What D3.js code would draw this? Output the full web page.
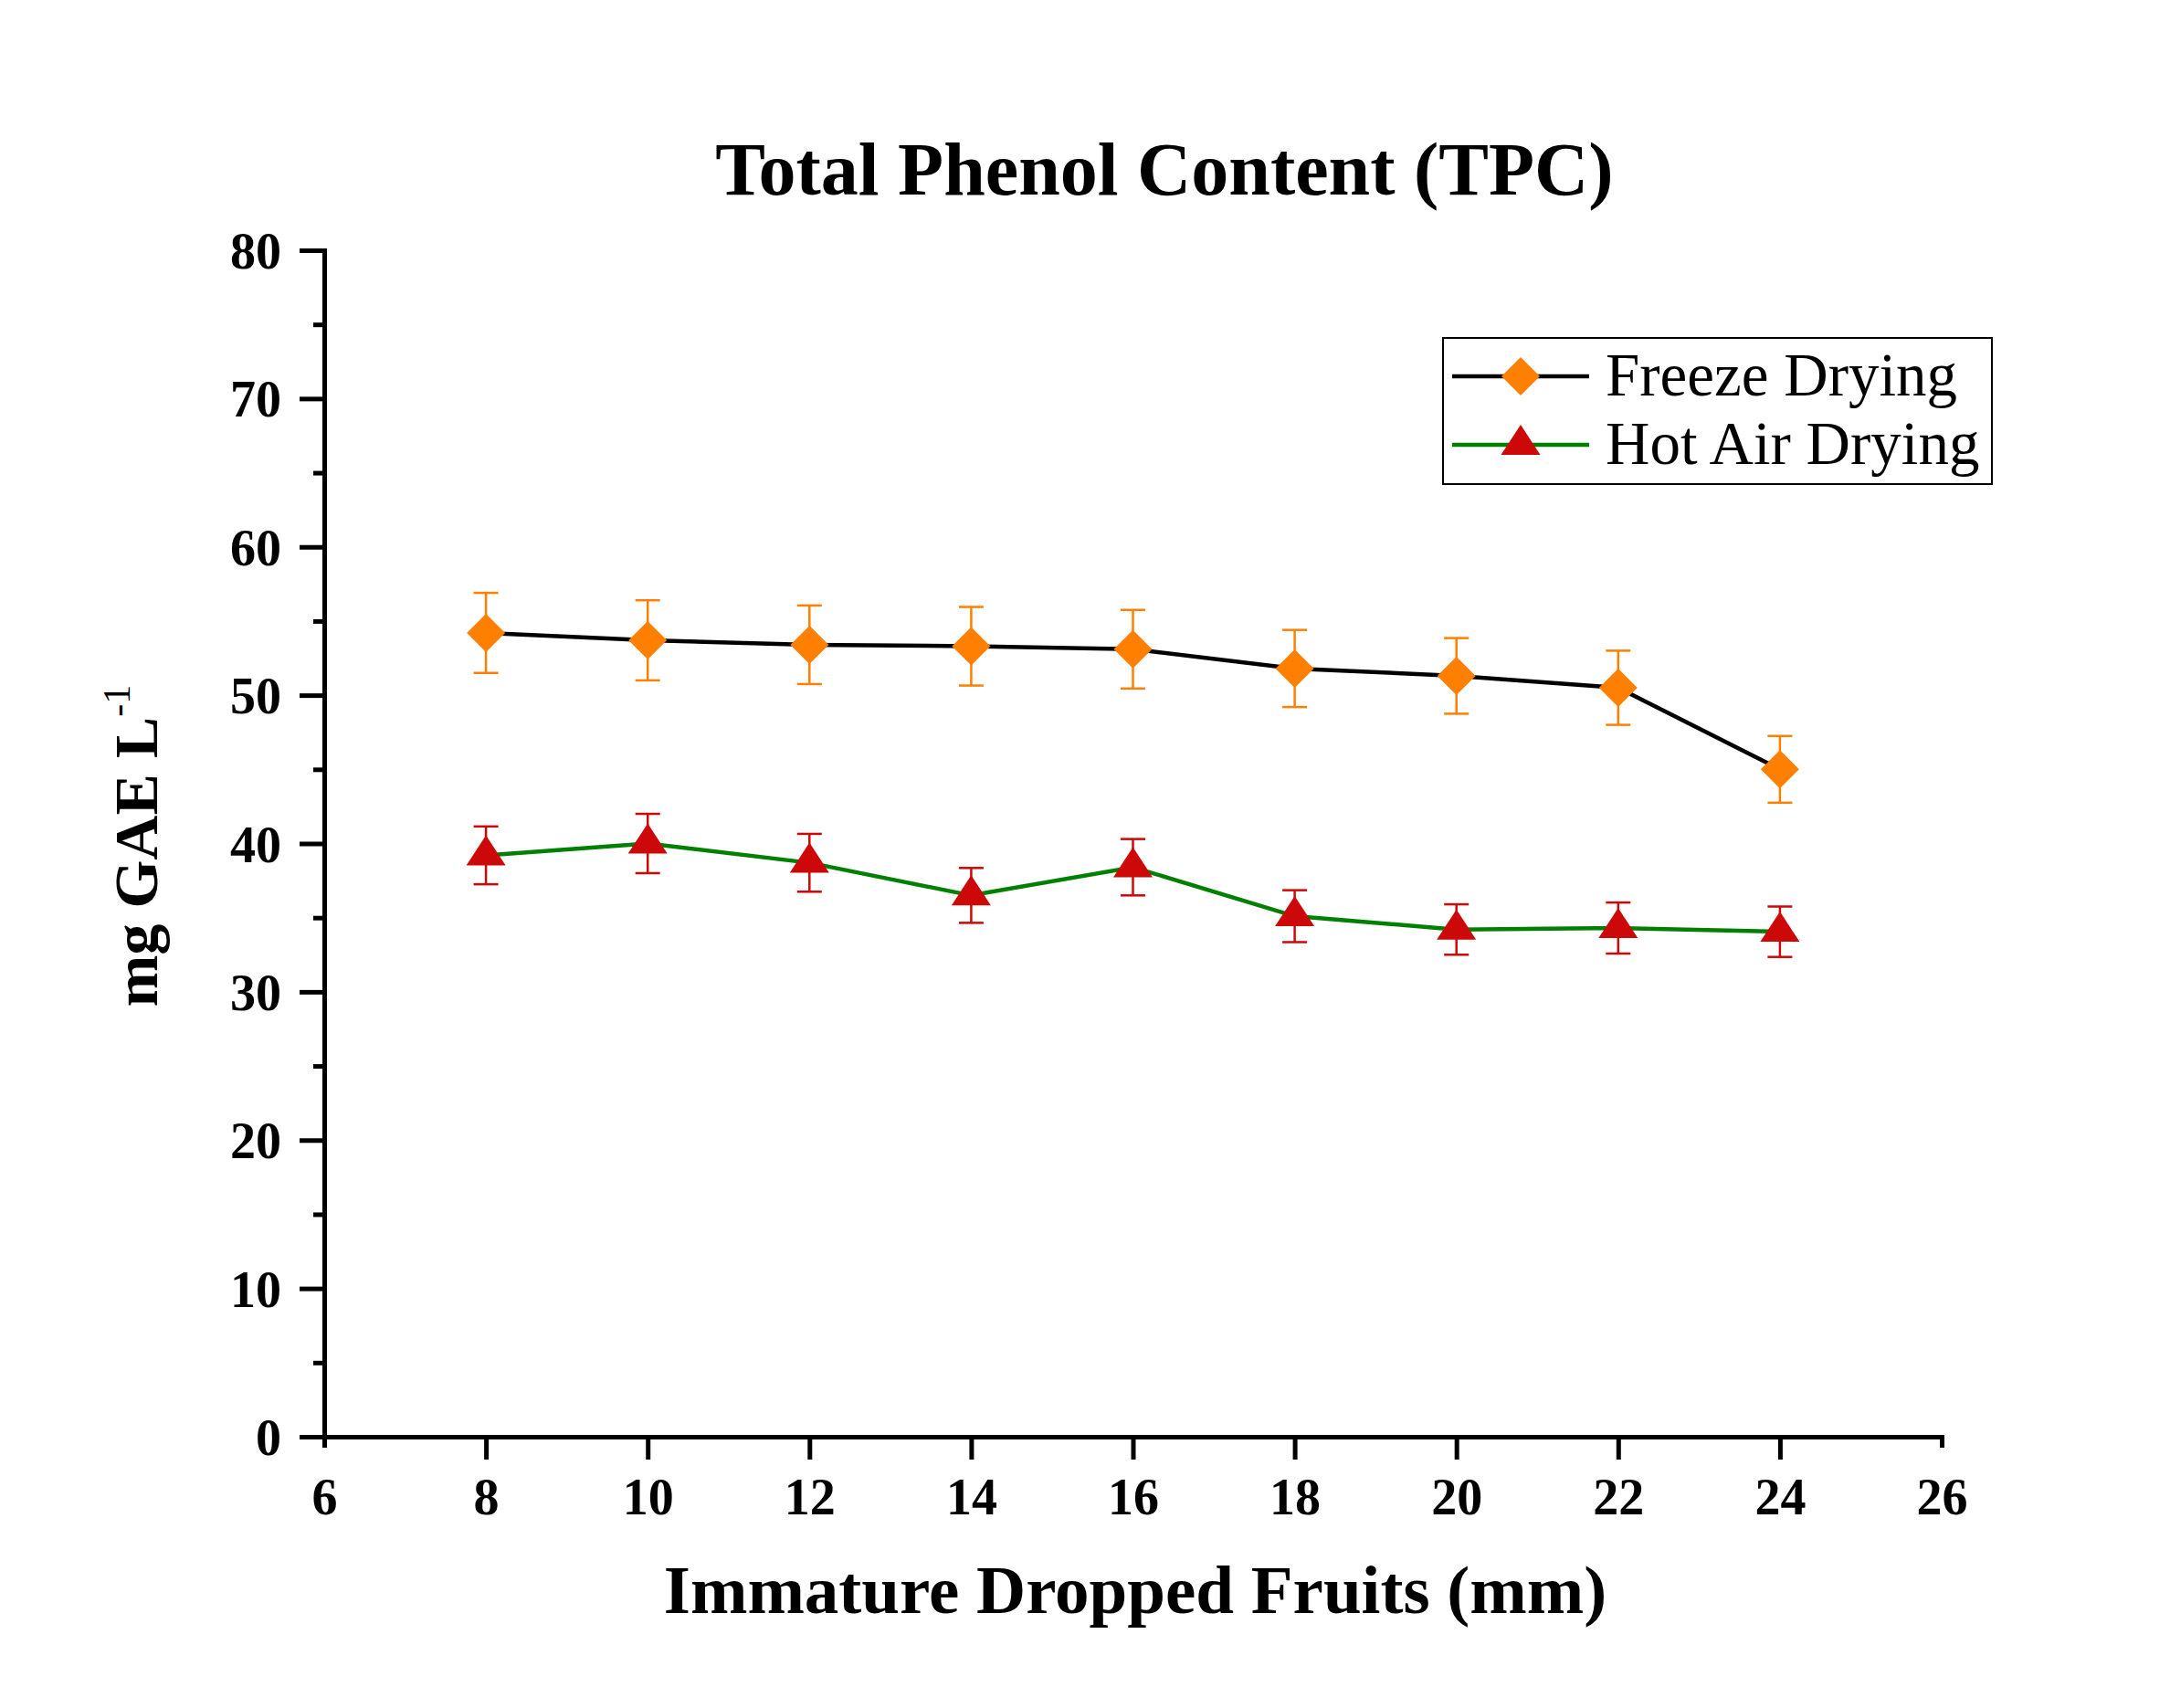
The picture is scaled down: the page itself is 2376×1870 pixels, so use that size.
<!DOCTYPE html>
<html>
<head>
<meta charset="utf-8">
<script src="https://cdn.jsdelivr.net/npm/d3@7"></script>
<style>
  body { margin: 0; background: #fff; }
  svg { display: block; font-family: "Liberation Serif", "Times New Roman", serif; }
</style>
</head>
<body>
<svg id="chart" width="2376" height="1870"></svg>
<script>
// data
const sizes = [8, 10, 12, 14, 16, 18, 20, 22, 24];
const freezeDrying = [54.2, 53.7, 53.4, 53.3, 53.1, 51.8, 51.3, 50.5, 45.0];
const freezeErr = [2.7, 2.7, 2.65, 2.65, 2.65, 2.6, 2.55, 2.5, 2.25];
const hotAirDrying = [39.2, 40.0, 38.7, 36.5, 38.4, 35.1, 34.2, 34.3, 34.05];
const hotAirErr = [1.95, 2.0, 1.95, 1.85, 1.9, 1.75, 1.7, 1.72, 1.7];
const xTicks = [6, 8, 10, 12, 14, 16, 18, 20, 22, 24, 26];
const yTicks = [0, 10, 20, 30, 40, 50, 60, 70, 80];
const yMinor = [5, 15, 25, 35, 45, 55, 65, 75];

const svg = d3.select("#chart");

const x = d3.scaleLinear().domain([6, 26]).range([355, 2126]);
const y = d3.scaleLinear().domain([0, 80]).range([1573, 274]);

const series = [
  { name: "Freeze Drying", values: freezeDrying, err: freezeErr, line: "#000000", fill: "#FF8000", shape: "diamond" },
  { name: "Hot Air Drying", values: hotAirDrying, err: hotAirErr, line: "#008000", fill: "#CC0808", shape: "triangle" }
];

function markerPath(shape) {
  if (shape === "diamond") return "M0,-21L21,0L0,21L-21,0Z";
  return "M0,-22L21.5,11L-21.5,11Z";
}

// title
svg.append("text")
  .attr("x", 1275).attr("y", 213)
  .attr("text-anchor", "middle")
  .attr("font-size", 82).attr("font-weight", "bold")
  .text("Total Phenol Content (TPC)");

// y axis minor ticks
svg.append("g")
  .attr("transform", "translate(355,0)")
  .call(d3.axisLeft(y).tickValues(yMinor).tickSize(12).tickSizeOuter(0).tickFormat(""))
  .call(g => g.select(".domain").remove())
  .call(g => g.selectAll("line").attr("stroke", "#000").attr("stroke-width", 5));

// y axis
svg.append("g")
  .attr("transform", "translate(355,0)")
  .call(d3.axisLeft(y).tickValues(yTicks).tickSize(27).tickSizeOuter(0))
  .call(g => g.select(".domain").attr("stroke", "#000").attr("stroke-width", 5).attr("stroke-linecap", "square"))
  .call(g => g.selectAll("line").attr("stroke", "#000").attr("stroke-width", 5))
  .call(g => g.selectAll("text")
    .attr("x", -47).attr("dy", "0.35em")
    .attr("font-size", 56).attr("font-weight", "bold")
    .attr("font-family", "Liberation Serif, serif").attr("fill", "#000"));

// x axis
svg.append("g")
  .attr("transform", "translate(0,1573)")
  .call(d3.axisBottom(x).tickValues(xTicks).tickSize(25).tickSizeOuter(0))
  .call(g => g.select(".domain").attr("stroke", "#000").attr("stroke-width", 5).attr("stroke-linecap", "square"))
  .call(g => g.selectAll(".tick line").attr("stroke", "#000").attr("stroke-width", 5)
    .attr("y2", d => (d === 6 || d === 26) ? 12 : 25))
  .call(g => g.selectAll("text")
    .attr("y", 85).attr("dy", 0)
    .attr("font-size", 56).attr("font-weight", "bold")
    .attr("font-family", "Liberation Serif, serif").attr("fill", "#000"));

// axis titles
svg.append("text")
  .attr("x", 1243).attr("y", 1766)
  .attr("text-anchor", "middle")
  .attr("font-size", 75).attr("font-weight", "bold")
  .text("Immature Dropped Fruits (mm)");

const yl = svg.append("text")
  .attr("transform", "translate(172,926) rotate(-90)")
  .attr("text-anchor", "middle")
  .attr("font-size", 68).attr("font-weight", "bold");
yl.append("tspan").text("mg GAE L");
yl.append("tspan").attr("font-size", 42).attr("font-weight", "normal").attr("dy", -30).text("-1");

// error bars
series.forEach(s => {
  const g = svg.append("g").attr("stroke", s.fill).attr("stroke-width", 2.5);
  sizes.forEach((d, i) => {
    const lo = y(s.values[i] - s.err[i]), hi = y(s.values[i] + s.err[i]), cx = x(d);
    g.append("line").attr("x1", cx).attr("x2", cx).attr("y1", lo).attr("y2", hi);
    g.append("line").attr("x1", cx - 13.5).attr("x2", cx + 13.5).attr("y1", lo).attr("y2", lo);
    g.append("line").attr("x1", cx - 13.5).attr("x2", cx + 13.5).attr("y1", hi).attr("y2", hi);
  });
});

// lines
const line = d3.line().x(d => x(d[0])).y(d => y(d[1]));
series.forEach(s => {
  svg.append("path")
    .datum(sizes.map((d, i) => [d, s.values[i]]))
    .attr("d", line)
    .attr("fill", "none")
    .attr("stroke", s.line)
    .attr("stroke-width", 4.5);
});

// markers
series.forEach(s => {
  svg.append("g").selectAll("path")
    .data(sizes.map((d, i) => [d, s.values[i]]))
    .join("path")
    .attr("transform", d => `translate(${x(d[0])},${y(d[1])})`)
    .attr("d", markerPath(s.shape))
    .attr("fill", s.fill);
});

// legend
const lg = svg.append("g");
lg.append("rect")
  .attr("x", 1580).attr("y", 370).attr("width", 601).attr("height", 160)
  .attr("fill", "#fff").attr("stroke", "#000").attr("stroke-width", 2);
const legendRows = [412, 487];
series.forEach((s, i) => {
  const ly = legendRows[i];
  lg.append("line")
    .attr("x1", 1590).attr("x2", 1740).attr("y1", ly).attr("y2", ly)
    .attr("stroke", s.line).attr("stroke-width", 4.5);
  lg.append("path")
    .attr("transform", `translate(1665,${ly})`)
    .attr("d", markerPath(s.shape))
    .attr("fill", s.fill);
  lg.append("text")
    .attr("x", 1758).attr("y", ly + 21)
    .attr("font-size", 67)
    .text(s.name);
});
</script>
</body>
</html>
